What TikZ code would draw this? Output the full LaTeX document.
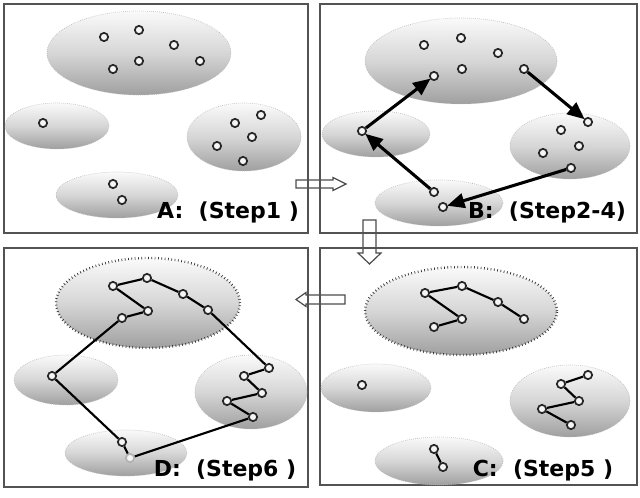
\documentclass[tikz,border=0pt]{standalone}
\usepackage{fontspec}
\setmainfont{DejaVu Sans}
\usetikzlibrary{shapes.geometric,arrows.meta}
\newcommand\clus[6][]{\node[clusterbox,#1, minimum width=#5*1.5pt, minimum height=#6*1.5pt] (#2) at (#3,#4) {};}
\newcommand\pnt[3]{\node[ptdot] (#1) at (#2,#3) {};}
\begin{document}
\begin{tikzpicture}[x=0.75pt,y=-0.75pt,
  clusterbox/.style={ellipse, inner sep=0pt, top color=gray!4, bottom color=gray!75, middle color=gray!32, draw=gray!55, densely dotted, line width=0.5pt},
  bigdotted/.style={draw=gray!35!black, dotted, line width=1.8pt},
  ptdot/.style={circle, draw=black!85, line width=1.3pt, fill=gray!8, minimum size=6.2pt, inner sep=0pt},
  panel/.style={draw=gray!65!black, line width=1.1pt},
  blockarr/.style={draw=gray!60!black, fill=white, line width=0.9pt, line join=miter},
  bigarrow/.style={line width=2.3pt, -{Triangle[length=13pt,width=11pt]}, shorten >=-0.5pt},
  edge/.style={line width=1.6pt},
  steplabel/.style={font=\bfseries\fontsize{16.5}{19}\selectfont, inner sep=0pt}]
\useasboundingbox (0,0) rectangle (640,498);
\fill[white] (0,0) rectangle (640,498);
% block arrows between panels
\draw[blockarr] (296,180) -- (333,180) -- (333,177.5) -- (346,184) -- (333,190.5) -- (333,188) -- (296,188) -- cycle;
\draw[blockarr] (363,220) -- (376,220) -- (376,253) -- (381,253) -- (369.5,264) -- (358,253) -- (363,253) -- cycle;
\draw[blockarr] (345,295) -- (306,295) -- (306,292.5) -- (296,299.5) -- (306,306.5) -- (306,304) -- (345,304) -- cycle;
% panels
\node[panel, minimum width=304*0.75pt, minimum height=229*0.75pt, inner sep=0pt] (pA) at (156,118.5) {};
\node[panel, minimum width=317*0.75pt, minimum height=229*0.75pt, inner sep=0pt] (pB) at (478.5,118.5) {};
\node[panel, minimum width=304*0.75pt, minimum height=239*0.75pt, inner sep=0pt] (pD) at (156,367.5) {};
\node[panel, minimum width=317*0.75pt, minimum height=237*0.75pt, inner sep=0pt] (pC) at (478.5,366.5) {};
% ---------- Panel A ----------
\clus{eA1}{139}{53}{92}{42}
\clus{eA2}{57}{126}{52}{23}
\clus{eA3}{244}{137}{57}{34}
\clus{eA4}{117}{195}{61}{23}
\pnt{a1}{104}{37}\pnt{a2}{139}{30}\pnt{a3}{174}{45}\pnt{a4}{113}{69}\pnt{a5}{139}{61}\pnt{a6}{200}{61}
\pnt{a7}{43}{123}
\pnt{a8}{261}{115}\pnt{a9}{235}{123}\pnt{a10}{252}{137}\pnt{a11}{217}{146}\pnt{a12}{243}{161}
\pnt{a13}{113}{184}\pnt{a14}{122}{200}
\node[steplabel] (lA) at (228,212) {A:~ (Step1~)};
% ---------- Panel B ----------
\clus{eB1}{461}{61}{96}{43}
\clus{eB2}{376}{134}{54}{23}
\clus{eB3}{570}{146}{60}{33}
\clus{eB4}{439}{203}{64}{23}
\pnt{b1}{424}{45}\pnt{b2}{461}{38}\pnt{b3}{498}{53}\pnt{b4}{434}{76}\pnt{b5}{462}{69}\pnt{b6}{524}{69}
\pnt{b7}{362}{131}
\pnt{b8}{588}{122}\pnt{b9}{561}{130}\pnt{b10}{579}{146}\pnt{b11}{543}{153}\pnt{b12}{571}{168}
\pnt{b13}{434}{192}\pnt{b14}{443}{207}
\draw[bigarrow] (b7) -- (b4);
\draw[bigarrow] (b6) -- (b8);
\draw[bigarrow] (b12) -- (b14);
\draw[bigarrow] (b13) -- (b7);
\node[steplabel] (lB) at (547,212) {B:~ (Step2-4)};
% ---------- Panel C ----------
\clus[bigdotted]{eC1}{461}{311}{96}{44}
\clus{eC2}{376}{388}{55}{24}
\clus{eC3}{570}{401}{60}{36}
\clus{eC4}{439}{461}{64}{24}
\pnt{c1}{425}{293}\pnt{c2}{462}{286}\pnt{c3}{498}{302}\pnt{c4}{524}{319}\pnt{c5}{462}{319}\pnt{c6}{434}{327}
\pnt{c7}{362}{385}
\pnt{c8}{588}{375}\pnt{c9}{561}{384}\pnt{c10}{579}{401}\pnt{c11}{542}{409}\pnt{c12}{571}{425}
\pnt{c13}{434}{449}\pnt{c14}{443}{467}
\draw[edge] (c1) -- (c2) (c2) -- (c3) (c3) -- (c4) (c1) -- (c5) (c5) -- (c6);
\draw[edge] (c8) -- (c9) (c9) -- (c10) (c10) -- (c11) (c11) -- (c12);
\draw[edge] (c13) -- (c14);
\node[steplabel] (lC) at (543,470) {C:~ (Step5~)};
% ---------- Panel D ----------
\clus[bigdotted]{eD1}{148}{303}{92}{45}
\clus{eD2}{66}{380}{52}{25}
\clus{eD3}{251}{392}{56}{37}
\clus{eD4}{126}{453}{61}{23}
\pnt{d1}{113}{286}\pnt{d2}{147}{278}\pnt{d3}{183}{294}\pnt{d4}{208}{310}\pnt{d5}{148}{311}\pnt{d6}{122}{318}
\pnt{d7}{52}{376}
\pnt{d8}{269}{368}\pnt{d9}{244}{376}\pnt{d10}{262}{393}\pnt{d11}{227}{401}\pnt{d12}{253}{417}
\pnt{d13}{122}{442}\node[ptdot, draw=gray!60] (d14) at (130,458) {};
\draw[edge] (d6) -- (d7) (d7) -- (d13) (d13) -- (d14) (d14) -- (d12) (d12) -- (d11) (d11) -- (d10) (d10) -- (d9) (d9) -- (d8) (d8) -- (d4) (d4) -- (d3) (d3) -- (d2) (d2) -- (d1) (d1) -- (d5) (d5) -- (d6);
\node[steplabel] (lD) at (225,470) {D:~ (Step6~)};
\end{tikzpicture}
\end{document}
